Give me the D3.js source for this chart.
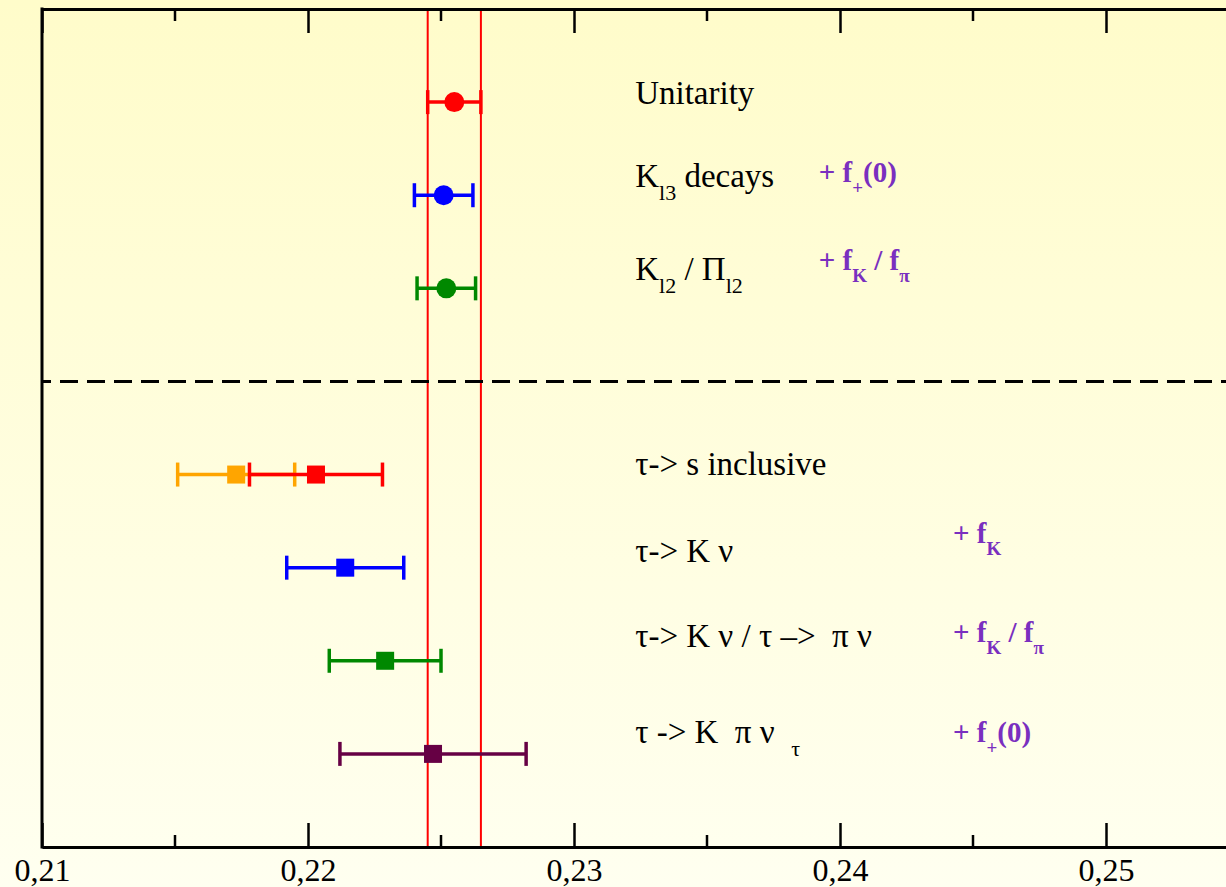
<!DOCTYPE html>
<html>
<head>
<meta charset="utf-8">
<script src="https://cdn.jsdelivr.net/npm/d3@7"></script>
<style>
  body { margin: 0; background: #fffee6; }
  svg { display: block; }
  svg text { font-family: 'Liberation Serif', Tinos, 'Times New Roman', Times, 'DejaVu Serif', serif; white-space: pre; }
</style>
</head>
<body>
<svg width="1226" height="887"></svg>
<script>
// rows counted from the top frame, row 4 is the dashed separator
const pointRows = [1, 2, 3, 5, 5, 6, 7, 8];
const centers   = [0.2255, 0.2251, 0.2252, 0.2173, 0.2203, 0.2214, 0.2229, 0.2247];
const lows      = [0.2245, 0.2240, 0.2241, 0.2151, 0.2178, 0.2192, 0.2208, 0.2212];
const highs     = [0.2265, 0.2262, 0.2263, 0.2195, 0.2228, 0.2236, 0.2250, 0.2282];
const shapes    = ['circle', 'circle', 'circle', 'square', 'square', 'square', 'square', 'square'];

const labelRows = [1, 2, 3, 5, 6, 7, 8];
const labels = [
  'Unitarity',
  'K_{l3} decays',
  'K_{l2} / Π_{l2}',
  'τ-> s inclusive',
  'τ-> K ν',
  'τ-> K ν / τ –>  π ν',
  'τ -> K  π ν  _{τ}'
];
const noteRows = [2, 3, 6, 7, 8];
const notes = ['+ f_{+}(0)', '+ f_{K} / f_{π}', '+ f_{K}', '+ f_{K} / f_{π}', '+ f_{+}(0)'];

const majorTicks = [0.21, 0.22, 0.23, 0.24, 0.25];
const minorTicks = [0.215, 0.225, 0.235, 0.245];
const band = [0.2245, 0.2265];  // unitarity band edges

// styling
const colors = ['#ff0000', '#0000ff', '#008800', '#ffa500', '#ff0000', '#0000ff', '#008800', '#660044'];
const labelDy = [2, -8.5, -8, 0.5, -6, -14, -10.5];
const noteDy = [-13.5, -18, -24.5, -19, -12];
const noteX = [0.2392, 0.2392, 0.24425, 0.24425, 0.24425];
const labelX = 0.2323;
const purple = '#7a2fbf';
const serif = "'Liberation Serif', Tinos, 'Times New Roman', Times, 'DejaVu Serif', serif";

const svg = d3.select('svg'),
      W = +svg.attr('width'),
      H = +svg.attr('height'),
      frameLeft = 42, frameTop = 9, frameBottom = 847;

const defs = svg.append('defs');
const grad = defs.append('linearGradient')
  .attr('id', 'bg').attr('x1', 0).attr('y1', 0).attr('x2', 0).attr('y2', 1);
grad.append('stop').attr('offset', '0%').attr('stop-color', '#fffcca');
grad.append('stop').attr('offset', '100%').attr('stop-color', '#fffff0');
svg.append('rect').attr('width', W).attr('height', H).attr('fill', 'url(#bg)');

const x = d3.scaleLinear()
  .domain([0.21, 0.21 + (W - frameLeft) / 26600])
  .range([frameLeft, W]);

const y = d3.scaleLinear()
  .domain([0, 9])
  .range([frameTop, frameBottom]);

// unitarity band lines
svg.append('g').selectAll('line')
  .data(band)
  .enter().append('line')
    .attr('x1', d => x(d)).attr('x2', d => x(d))
    .attr('y1', frameTop).attr('y2', frameBottom)
    .attr('stroke', '#ff0000')
    .attr('stroke-width', 2);

// dashed separator
svg.append('line')
  .attr('x1', x(0.21)).attr('x2', W)
  .attr('y1', y(4)).attr('y2', y(4))
  .attr('stroke', '#000')
  .attr('stroke-width', 3)
  .attr('stroke-dasharray', '18,9')
  .attr('stroke-dashoffset', 9);

// axes
const fmt = d => d3.format('.2f')(d).replace('.', ',');

const bottomAxis = svg.append('g')
  .attr('transform', `translate(0, ${frameBottom})`)
  .call(d3.axisBottom(x).tickValues(majorTicks).tickSize(-24).tickSizeOuter(0).tickFormat(fmt));
bottomAxis.append('g').selectAll('line')
  .data(minorTicks)
  .enter().append('line')
    .attr('x1', d => x(d)).attr('x2', d => x(d))
    .attr('y1', 0).attr('y2', -12);

const topAxis = svg.append('g')
  .attr('transform', `translate(0, ${frameTop})`)
  .call(d3.axisTop(x).tickValues(majorTicks).tickSize(-24).tickSizeOuter(0).tickFormat(''));
topAxis.append('g').selectAll('line')
  .data(minorTicks)
  .enter().append('line')
    .attr('x1', d => x(d)).attr('x2', d => x(d))
    .attr('y1', 0).attr('y2', 12);

svg.selectAll('.domain').attr('stroke', '#000').attr('stroke-width', 3);
bottomAxis.selectAll('line').attr('stroke', '#000').attr('stroke-width', 2.5);
topAxis.selectAll('line').attr('stroke', '#000').attr('stroke-width', 2.5);
bottomAxis.attr('font-family', serif);
bottomAxis.selectAll('.tick text')
  .attr('y', 34).attr('dy', 0)
  .attr('font-size', 32)
  .style('font-family', serif)
  .attr('fill', '#000');

svg.append('line')
  .attr('x1', frameLeft).attr('x2', frameLeft)
  .attr('y1', frameTop - 1.5).attr('y2', frameBottom + 1.5)
  .attr('stroke', '#000')
  .attr('stroke-width', 3);

// error bars
const pts = centers.map((c, i) => ({c: c, lo: lows[i], hi: highs[i], row: pointRows[i], shape: shapes[i], color: colors[i]}));

const bars = svg.append('g').selectAll('.bar')
  .data(pts)
  .enter().append('g')
    .attr('class', 'bar')
    .attr('stroke', d => d.color)
    .attr('fill', d => d.color);

bars.append('line')
  .attr('x1', d => x(d.lo)).attr('x2', d => x(d.hi))
  .attr('y1', d => y(d.row)).attr('y2', d => y(d.row))
  .attr('stroke-width', 3.5);
bars.append('line')
  .attr('x1', d => x(d.lo)).attr('x2', d => x(d.lo))
  .attr('y1', d => y(d.row) - 12).attr('y2', d => y(d.row) + 12)
  .attr('stroke-width', 3.5);
bars.append('line')
  .attr('x1', d => x(d.hi)).attr('x2', d => x(d.hi))
  .attr('y1', d => y(d.row) - 12).attr('y2', d => y(d.row) + 12)
  .attr('stroke-width', 3.5);

bars.filter(d => d.shape === 'circle').append('circle')
  .attr('cx', d => x(d.c)).attr('cy', d => y(d.row))
  .attr('r', 10).attr('stroke', 'none');
bars.filter(d => d.shape === 'square').append('rect')
  .attr('x', d => x(d.c) - 9).attr('y', d => y(d.row) - 9)
  .attr('width', 18).attr('height', 18).attr('stroke', 'none');

// text with _{...} subscripts
function richText(sel, str, opts) {
  const parts = str.split(/(_\{[^}]*\})/).filter(p => p.length);
  let down = false;
  parts.forEach(p => {
    const isSub = p.startsWith('_{');
    const t = sel.append('tspan').text(isSub ? p.slice(2, -1) : p);
    if (isSub) {
      t.attr('dy', opts.subDy).attr('font-size', opts.subSize);
      down = true;
    } else if (down) {
      t.attr('dy', -opts.subDy);
      down = false;
    }
  });
}

labels.forEach((s, i) => {
  const t = svg.append('text')
    .attr('x', x(labelX))
    .attr('y', y(labelRows[i]) + labelDy[i])
    .attr('font-size', 33)
    .style('font-family', serif)
    .attr('fill', '#000');
  richText(t, s, {subDy: 13, subSize: 22});
});

notes.forEach((s, i) => {
  const t = svg.append('text')
    .attr('x', x(noteX[i]))
    .attr('y', y(noteRows[i]) + noteDy[i])
    .attr('font-size', 29)
    .attr('font-weight', 'bold')
    .style('font-family', serif)
    .attr('fill', purple);
  richText(t, s, {subDy: 12, subSize: 19});
});
</script>
</body>
</html>
